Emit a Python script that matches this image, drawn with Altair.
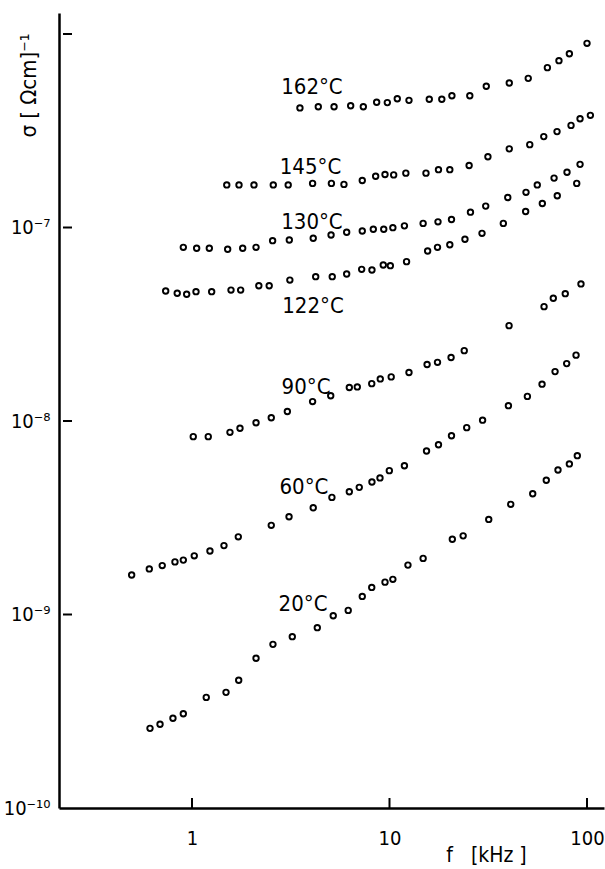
import altair as alt
import pandas as pd

FONT = "DejaVu Sans Condensed, Liberation Sans Narrow, sans-serif"

# frequency f [kHz] and conductivity sigma [(Ohm cm)^-1] for each temperature
f_162 = [3.52, 4.36, 5.24, 6.36, 7.37, 8.61, 9.75, 10.95, 12.55, 15.9, 18.4, 20.7,
         25.5, 30.9, 40.4, 50.4, 63.0, 72.1, 81.4, 100]
s_162 = [4.15e-7, 4.21e-7, 4.21e-7, 4.26e-7, 4.21e-7, 4.44e-7, 4.42e-7, 4.63e-7,
         4.54e-7, 4.60e-7, 4.60e-7, 4.80e-7, 4.80e-7, 5.37e-7, 5.58e-7, 5.90e-7,
         6.70e-7, 7.28e-7, 7.91e-7, 8.95e-7]

f_145 = [1.50, 1.73, 2.06, 2.58, 3.07, 4.08, 5.08, 5.88, 7.28, 8.51, 9.49, 10.5,
         12.1, 15.3, 17.7, 20.2, 25.3, 31.5, 40.4, 51.3, 60.4, 70.5, 83.0, 92.2, 104]
s_145 = [1.66e-7, 1.66e-7, 1.66e-7, 1.66e-7, 1.66e-7, 1.69e-7, 1.69e-7, 1.67e-7,
         1.75e-7, 1.84e-7, 1.88e-7, 1.87e-7, 1.91e-7, 1.91e-7, 1.99e-7, 1.99e-7,
         2.09e-7, 2.32e-7, 2.55e-7, 2.68e-7, 2.95e-7, 3.13e-7, 3.37e-7, 3.65e-7,
         3.80e-7]

f_130 = [0.904, 1.056, 1.224, 1.516, 1.806, 2.11, 2.56, 3.11, 4.11, 5.06, 6.07,
         7.28, 8.28, 9.35, 10.4, 11.9, 14.8, 17.6, 20.6, 25.7, 30.7, 39.7, 49.1,
         56.0, 68.1, 79.2, 92.2]
s_130 = [7.90e-8, 7.81e-8, 7.81e-8, 7.72e-8, 7.81e-8, 7.90e-8, 8.55e-8, 8.62e-8,
         8.80e-8, 9.15e-8, 9.45e-8, 9.59e-8, 9.79e-8, 9.79e-8, 9.98e-8, 1.02e-7,
         1.05e-7, 1.07e-7, 1.10e-7, 1.20e-7, 1.29e-7, 1.43e-7, 1.52e-7, 1.66e-7,
         1.80e-7, 1.93e-7, 2.12e-7]

f_122 = [0.736, 0.842, 0.940, 1.048, 1.258, 1.576, 1.764, 2.18, 2.46, 3.13, 4.23,
         5.13, 6.07, 7.23, 8.15, 9.30, 10.1, 12.2, 15.6, 17.5, 20.2, 24.1, 29.4,
         37.7, 48.9, 59.4, 70.7, 88.7]
s_122 = [4.70e-8, 4.57e-8, 4.52e-8, 4.66e-8, 4.66e-8, 4.75e-8, 4.75e-8, 5.00e-8,
         5.00e-8, 5.35e-8, 5.57e-8, 5.57e-8, 5.75e-8, 6.08e-8, 6.03e-8, 6.40e-8,
         6.35e-8, 6.66e-8, 7.56e-8, 7.90e-8, 8.15e-8, 8.69e-8, 9.33e-8, 1.05e-7,
         1.21e-7, 1.33e-7, 1.46e-7, 1.69e-7]

f_90 = [1.015, 1.209, 1.557, 1.750, 2.11, 2.52, 3.04, 4.08, 5.04, 6.26, 6.87, 8.13,
        8.98, 10.2, 12.55, 15.5, 17.5, 20.5, 23.9, 40.3, 60.6, 67.5, 77.6, 93.2]
s_90 = [8.30e-9, 8.30e-9, 8.74e-9, 9.17e-9, 9.80e-9, 1.04e-8, 1.12e-8, 1.26e-8,
        1.35e-8, 1.49e-8, 1.50e-8, 1.56e-8, 1.65e-8, 1.69e-8, 1.78e-8, 1.96e-8,
        2.01e-8, 2.13e-8, 2.31e-8, 3.11e-8, 3.90e-8, 4.31e-8, 4.55e-8, 5.11e-8]

f_60 = [0.495, 0.608, 0.707, 0.820, 0.904, 1.027, 1.233, 1.452, 1.716, 2.52, 3.10,
        4.11, 5.11, 6.26, 7.03, 8.15, 8.95, 9.98, 11.9, 15.4, 17.7, 20.6, 24.6,
        29.6, 40.0, 49.9, 59.2, 68.9, 78.9, 88.0]
s_60 = [1.60e-9, 1.72e-9, 1.79e-9, 1.87e-9, 1.91e-9, 2.01e-9, 2.13e-9, 2.27e-9,
        2.52e-9, 2.89e-9, 3.20e-9, 3.56e-9, 4.03e-9, 4.31e-9, 4.54e-9, 4.84e-9,
        5.08e-9, 5.54e-9, 5.87e-9, 7.00e-9, 7.54e-9, 8.39e-9, 9.24e-9, 1.01e-8,
        1.20e-8, 1.34e-8, 1.55e-8, 1.80e-8, 1.98e-8, 2.19e-8]

f_20 = [0.613, 0.689, 0.801, 0.904, 1.181, 1.487, 1.724, 2.11, 2.57, 3.22, 4.31,
        5.19, 6.18, 7.28, 8.13, 9.49, 10.4, 12.4, 14.8, 20.8, 23.6, 31.8, 41.1,
        53.1, 62.2, 71.3, 81.4, 89.3]
s_20 = [2.58e-10, 2.71e-10, 2.91e-10, 3.07e-10, 3.73e-10, 3.96e-10, 4.57e-10,
        5.94e-10, 7.01e-10, 7.68e-10, 8.55e-10, 9.86e-10, 1.05e-9, 1.24e-9,
        1.38e-9, 1.47e-9, 1.52e-9, 1.80e-9, 1.95e-9, 2.45e-9, 2.55e-9, 3.10e-9,
        3.71e-9, 4.21e-9, 4.94e-9, 5.58e-9, 6.00e-9, 6.62e-9]

# curve labels and where they sit
label_text = ["162°C", "145°C", "130°C", "122°C", "90°C", "60°C", "20°C"]
label_f = [4.05, 3.98, 4.05, 4.10, 3.78, 3.69, 3.65]
label_s = [5.35e-7, 2.05e-7, 1.068e-7, 3.93e-8, 1.50e-8, 4.56e-9, 1.13e-9]

# axis ticks
x_ticks = [1, 10, 100]
y_ticks = [1e-10, 1e-9, 1e-8, 1e-7, 1e-6]

series = [
    ("162°C", f_162, s_162), ("145°C", f_145, s_145), ("130°C", f_130, s_130),
    ("122°C", f_122, s_122), ("90°C", f_90, s_90), ("60°C", f_60, s_60),
    ("20°C", f_20, s_20),
]
rows = []
for name, fs, ss in series:
    for fv, sv in zip(fs, ss):
        rows.append({"T": name, "f": fv, "s": sv})
points_df = pd.DataFrame(rows)
labels_df = pd.DataFrame({"text": label_text, "f": label_f, "s": label_s})
xt_df = pd.DataFrame({"f": x_ticks})
yt_df = pd.DataFrame({"s": [v for v in y_ticks if v > 1e-10]})

W, H = 545, 795
xscale = alt.Scale(type="log", domain=[0.2122, 121.9], nice=False)
yscale = alt.Scale(type="log", domain=[1e-10, 1.284e-6], nice=False)

y_label_expr = (
    "round(log(datum.value)/LN10) == -10 ? '10⁻¹⁰' : "
    "round(log(datum.value)/LN10) == -9 ? '10⁻⁹' : "
    "round(log(datum.value)/LN10) == -8 ? '10⁻⁸' : "
    "round(log(datum.value)/LN10) == -7 ? '10⁻⁷' : ''"
)

x_axis = alt.Axis(
    values=x_ticks, title="f\u00a0\u00a0\u00a0[kHz\u00a0]", grid=False,
    ticks=False, tickSize=0,
    domainColor="black", domainWidth=2.5, labelFont=FONT, labelFontSize=20,
    labelColor="black", labelPadding=20, labelBaseline="top",
    labelFlush=False, format="~g",
    titleFont=FONT, titleFontSize=21, titleFontWeight="normal",
    titleColor="black", titleX=427, titleY=47, titleBaseline="middle",
    titleAlign="center")
y_axis = alt.Axis(
    values=y_ticks, title="σ [ Ωcm]⁻¹", grid=False, ticks=False, tickSize=0,
    domainColor="black", domainWidth=2.5, labelFont=FONT, labelFontSize=20,
    labelColor="black", labelPadding=9, labelExpr=y_label_expr,
    labelFlush=False,
    titleFont=FONT, titleFontSize=22, titleFontWeight="normal",
    titleColor="black", titleAngle=270, titleX=-31, titleY=72,
    titleAlign="center", titleBaseline="middle")

points = alt.Chart(points_df).mark_point(
    shape="circle", filled=False, size=30, strokeWidth=1.9, color="black", opacity=1
).encode(
    x=alt.X("f:Q", scale=xscale, axis=x_axis),
    y=alt.Y("s:Q", scale=yscale, axis=y_axis),
)

labels = alt.Chart(labels_df).mark_text(
    font=FONT, fontSize=22, align="center", baseline="middle", color="black"
).encode(
    x=alt.X("f:Q", scale=xscale, axis=x_axis),
    y=alt.Y("s:Q", scale=yscale, axis=y_axis),
    text="text:N",
)

x_tick_marks = alt.Chart(xt_df).mark_rule(color="black", strokeWidth=2).encode(
    x=alt.X("f:Q", scale=xscale, axis=x_axis),
    y=alt.value(H),
    y2=alt.value(H - 10),
)

y_tick_marks = alt.Chart(yt_df).mark_rule(color="black", strokeWidth=2).encode(
    y=alt.Y("s:Q", scale=yscale, axis=y_axis),
    x=alt.value(4),
    x2=alt.value(13),
)

chart = alt.layer(points, labels, x_tick_marks, y_tick_marks).properties(
    width=W,
    height=H,
    padding={"left": 59, "top": 13, "right": 1, "bottom": 61},
    autosize=alt.AutoSizeParams(type="none"),
    background="white",
).configure_view(stroke=None)

chart.save("out.html", embed_options={"renderer": "svg", "actions": False})
